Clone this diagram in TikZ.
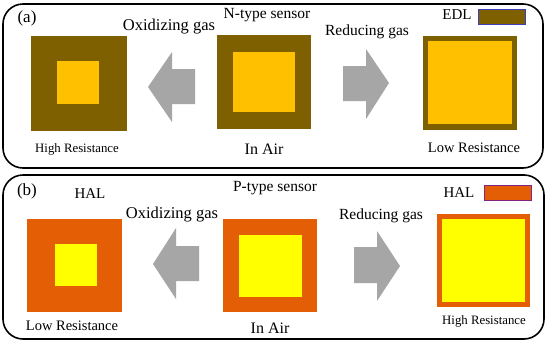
\documentclass[tikz,border=0pt]{standalone}
\usepackage{fontspec}
\setmainfont{Liberation Serif}
\definecolor{edl}{RGB}{127,96,0}
\definecolor{gold}{RGB}{255,192,0}
\definecolor{hal}{RGB}{228,94,5}
\definecolor{yel}{RGB}{255,255,0}
\definecolor{arr}{RGB}{166,166,166}
\tikzset{
  panel/.style={draw=black,line width=1.6pt,rounded corners=20pt},
  lbl/.style={inner sep=0pt,anchor=center},
  blockarrow/.style={fill=arr,draw=none},
}
\newcommand{\fs}[1]{\fontsize{#1}{#1}\selectfont}
\begin{document}
\begin{tikzpicture}[x=1pt,y=-1pt]
\useasboundingbox (0,0) rectangle (550,346);
\fill[white] (0,0) rectangle (550,346);
% ---------- panel (a)
\draw[panel] (3,4) rectangle (543,168);
\node[lbl] (la) at (27,18) {\fs{17}(a)};
\node[lbl] (nts) at (267,15) {\fs{15.5}N-type sensor};
\node[lbl] (oxa) at (169,27) {\fs{16.5}Oxidizing gas};
\node[lbl] (rda) at (367,32) {\fs{15.5}Reducing gas};
\node[lbl] (edl) at (457,15) {\fs{15}EDL};
\fill[edl] (478,9) rectangle (525,24);
\draw[blue!50!gray,line width=0.5pt] (478,9) rectangle (525,24);
% left square
\fill[edl] (31,36) rectangle (127,131);
\fill[gold] (57,61) rectangle (99,104);
% middle square
\fill[edl] (217,35) rectangle (311,129);
\fill[gold] (233,52) rectangle (295,112);
% right square
\fill[edl] (423,36) rectangle (517,130);
\fill[gold] (428,41) rectangle (512,124);
% arrows
\fill[blockarrow] (195,69) -- (172,69) -- (172,52) -- (148,87) -- (172,122) -- (172,104) -- (195,104) -- cycle;
\fill[blockarrow] (343,66) -- (366,66) -- (366,49) -- (389,83) -- (366,119) -- (366,101) -- (343,101) -- cycle;
\node[lbl] (hra) at (77,149) {\fs{12.8}High Resistance};
\node[lbl] (aira) at (264,149) {\fs{16}In Air};
\node[lbl] (lra) at (474,148) {\fs{14.5}Low Resistance};
% ---------- panel (b)
\draw[panel] (3,175) rectangle (544,339);
\node[lbl] (lb) at (27,191) {\fs{17}(b)};
\node[lbl] (halb) at (90,194) {\fs{15}HAL};
\node[lbl] (pts) at (275,188) {\fs{15.5}P-type sensor};
\node[lbl] (oxb) at (172,215) {\fs{16.5}Oxidizing gas};
\node[lbl] (rdb) at (381,216) {\fs{15.5}Reducing gas};
\node[lbl] (hal) at (459,193) {\fs{15}HAL};
\fill[hal] (484,185) rectangle (531,200);
\draw[violet!70!gray,line width=0.5pt] (484,185) rectangle (531,200);
% left square
\fill[hal] (27,219) rectangle (122,312);
\fill[yel] (55,244) rectangle (97,286);
% middle square
\fill[hal] (223,219) rectangle (317,312);
\fill[yel] (239,235) rectangle (302,297);
% right square
\fill[hal] (437,214) rectangle (530,307);
\fill[yel] (442,219) rectangle (525,302);
% arrows
\fill[blockarrow] (199,246) -- (176,246) -- (176,228) -- (153,264) -- (176,299) -- (176,281) -- (199,281) -- cycle;
\fill[blockarrow] (354,247) -- (377,247) -- (377,231) -- (400,266) -- (377,301) -- (377,283) -- (354,283) -- cycle;
\node[lbl] (lrb) at (72,326) {\fs{14.5}Low Resistance};
\node[lbl] (airb) at (270,328) {\fs{16}In Air};
\node[lbl] (hrb) at (484,321) {\fs{12.8}High Resistance};
\end{tikzpicture}
\end{document}
